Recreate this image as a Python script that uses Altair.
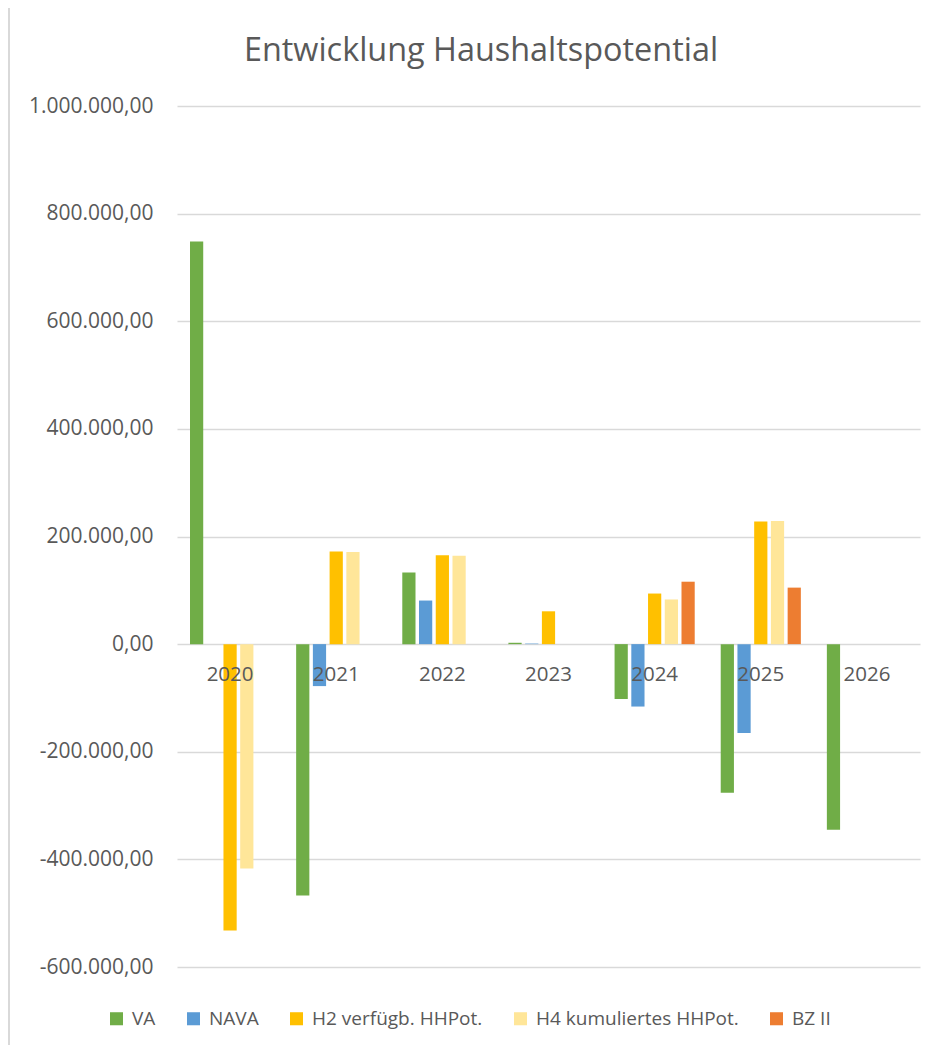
import altair as alt
import pandas as pd

title_text = "Entwicklung Haushaltspotential"
years = ["2020", "2021", "2022", "2023", "2024", "2025", "2026"]
series = ["VA", "NAVA", "H2 verfügb. HHPot.", "H4 kumuliertes HHPot.", "BZ II"]
colors = ["#70AD47", "#5B9BD5", "#FFC000", "#FFE699", "#ED7D31"]

va = [748000, -467000, 133000, 2500, -102000, -276000, -345000]
nava = [0, -78000, 81000, 1000, -116000, -165000, 0]
h2 = [-532000, 172000, 165000, 61000, 94000, 228000, 0]
h4 = [-417000, 171000, 164000, 0, 83000, 229000, 0]
bz = [0, 0, 0, 0, 116000, 105000, 0]

y_ticks = [-600000, -400000, -200000, 0, 200000, 400000, 600000, 800000, 1000000]

rows = []
for name, vals in zip(series, [va, nava, h2, h4, bz]):
    for yr, v in zip(years, vals):
        rows.append({"Jahr": yr, "Serie": name, "Wert": v})
df = pd.DataFrame(rows)
df_years = pd.DataFrame({"Jahr": years})
df_title = pd.DataFrame({"t": [title_text]})

FONT = "Open Sans"
GREY = "#595959"

label_expr = ("replace(replace(replace(replace(format(datum.value, ',.2f'), regexp(',', 'g'), '#'), "
              "regexp('\\\\.', 'g'), ','), regexp('#', 'g'), '.'), '\u2212', '-')")

x_scale = alt.Scale(domain=years, paddingInner=0.245, paddingOuter=0.1225)

bars = alt.Chart(df).mark_bar().encode(
    x=alt.X("Jahr:N", scale=x_scale, axis=None),
    xOffset=alt.XOffset("Serie:N", scale=alt.Scale(domain=series, paddingInner=0.21, paddingOuter=0)),
    y=alt.Y("Wert:Q",
            scale=alt.Scale(domain=[-600000, 1000000], nice=False, zero=False),
            axis=alt.Axis(values=y_ticks, labelExpr=label_expr, title=None, ticks=False,
                          domain=False, labelPadding=24, labelFontSize=21, labelFont=FONT,
                          labelColor=GREY, gridColor="#D9D9D9", gridWidth=1.3)),
    color=alt.Color("Serie:N",
                    scale=alt.Scale(domain=series, range=colors),
                    legend=alt.Legend(title=None, orient="none", direction="horizontal",
                                      legendX=-70, legendY=903, symbolType="square",
                                      symbolSize=170, symbolStrokeWidth=0, labelFontSize=19,
                                      labelFont=FONT, labelColor=GREY, labelOffset=6,
                                      columnPadding=28, labelLimit=400)),
)

labels = alt.Chart(df_years).mark_text(fontSize=20.5, font=FONT, color=GREY, dy=31).encode(
    x=alt.X("Jahr:N", scale=x_scale, axis=None),
    y=alt.datum(0),
    text="Jahr:N",
)

title = alt.Chart(df_title).mark_text(fontSize=32.4, font=FONT, color=GREY,
                                      align="center", baseline="middle").encode(
    x=alt.value(304), y=alt.value(-55), text="t:N"
)

border = alt.Chart(df_years).mark_rule(color="#D9D9D9", strokeWidth=2).encode(
    x=alt.value(-168), y=alt.value(-106), y2=alt.value(947)
)

chart = alt.layer(border, bars, labels, title).properties(
    width=743,
    height=861,
    background="white",
    autosize=alt.AutoSizeParams(type="none"),
    padding={"left": 169, "top": 98, "right": 13, "bottom": 78},
).configure_view(stroke=None)

chart.save("out.html", embed_options={"renderer": "svg", "actions": False})
